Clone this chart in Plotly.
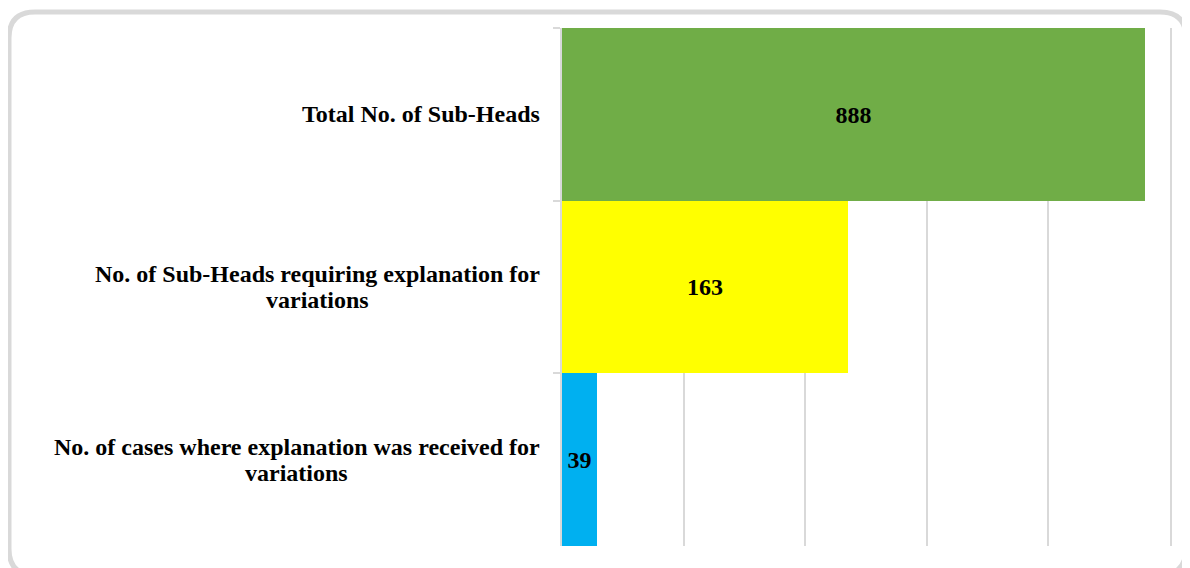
import math
import plotly.graph_objects as go

categories = ["Total No. of Sub-Heads",
              "No. of Sub-Heads requiring explanation for variations",
              "No. of cases where explanation was received for variations"]
label_lines = [["Total No. of Sub-Heads"],
               ["No. of Sub-Heads requiring explanation for", "variations"],
               ["No. of cases where explanation was received for", "variations"]]
values = [888, 163, 39]
colors = ["#70AD47", "#FFFF00", "#00B0F0"]

axis_min = 32
axis_max = 1024
grid_vals = [32, 64, 128, 256, 512, 1024]

# page has an 8px body margin, so the figure itself is a bit smaller
W, H = 1182, 560
ml, mr, mt, mb = 554, 20, 20, 22
pw = W - ml - mr
ph = H - mt - mb

FONT = "Liberation Serif, Times New Roman, serif"

fig = go.Figure()
fig.add_trace(go.Bar(
    y=categories,
    x=[v - axis_min for v in values],
    base=axis_min,
    orientation="h",
    marker=dict(color=colors, line=dict(width=0)),
    text=[str(v) for v in values],
    textposition="inside",
    insidetextanchor="middle",
    constraintext="none",
    textfont=dict(family=FONT, size=24, color="black", weight="bold"),
    hoverinfo="skip",
))

def px(x):
    return (x - ml) / pw

def py(y):
    return (H - mb - y) / ph

# category labels: right-aligned block, second line centred under the first
centres = [None, 317, 296]
for c, lines, cx in zip(categories, label_lines, centres):
    if len(lines) == 1:
        fig.add_annotation(x=0, xref="paper", y=c, yref="y",
                           text="<b>" + lines[0] + "</b>", showarrow=False,
                           xanchor="right", yanchor="middle", xshift=-20,
                           font=dict(family=FONT, size=24, color="black"))
    else:
        fig.add_annotation(x=0, xref="paper", y=c, yref="y",
                           text="<b>" + lines[0] + "</b>", showarrow=False,
                           xanchor="right", yanchor="middle", xshift=-20, yshift=13,
                           font=dict(family=FONT, size=24, color="black"))
        fig.add_annotation(x=px(cx - 8), xref="paper", y=c, yref="y",
                           text="<b>" + lines[1] + "</b>", showarrow=False,
                           xanchor="center", yanchor="middle", yshift=-13,
                           font=dict(family=FONT, size=24, color="black"))

# rounded frame around the chart
x0, x1, y0, y1, r = 1, 1178, 4, 567, 26
path = (f"M {px(x0 + r)},{py(y0)} L {px(x1 - r)},{py(y0)} "
        f"Q {px(x1)},{py(y0)} {px(x1)},{py(y0 + r)} "
        f"L {px(x1)},{py(y1 - r)} Q {px(x1)},{py(y1)} {px(x1 - r)},{py(y1)} "
        f"L {px(x0 + r)},{py(y1)} Q {px(x0)},{py(y1)} {px(x0)},{py(y1 - r)} "
        f"L {px(x0)},{py(y0 + r)} Q {px(x0)},{py(y0)} {px(x0 + r)},{py(y0)} Z")
fig.add_shape(type="path", path=path, xref="paper", yref="paper",
              line=dict(color="#D9D9D9", width=5), layer="below")

fig.update_layout(
    width=W, height=H,
    margin=dict(l=ml, r=mr, t=mt, b=mb),
    paper_bgcolor="white", plot_bgcolor="white",
    bargap=0, showlegend=False,
    xaxis=dict(type="log", range=[math.log10(axis_min), math.log10(axis_max)],
               tickvals=grid_vals, showticklabels=False, ticks="",
               showgrid=True, gridcolor="#D9D9D9", gridwidth=1.5,
               zeroline=False, showline=False),
    yaxis=dict(type="category", categoryorder="array", categoryarray=categories,
               autorange="reversed", showticklabels=False,
               ticks="outside", tickson="boundaries", ticklen=7,
               tickcolor="#D9D9D9", tickwidth=1.5,
               showline=True, mirror=True, linecolor="#D9D9D9", linewidth=1.5,
               showgrid=False, zeroline=False),
)

fig.write_html("out.html")
